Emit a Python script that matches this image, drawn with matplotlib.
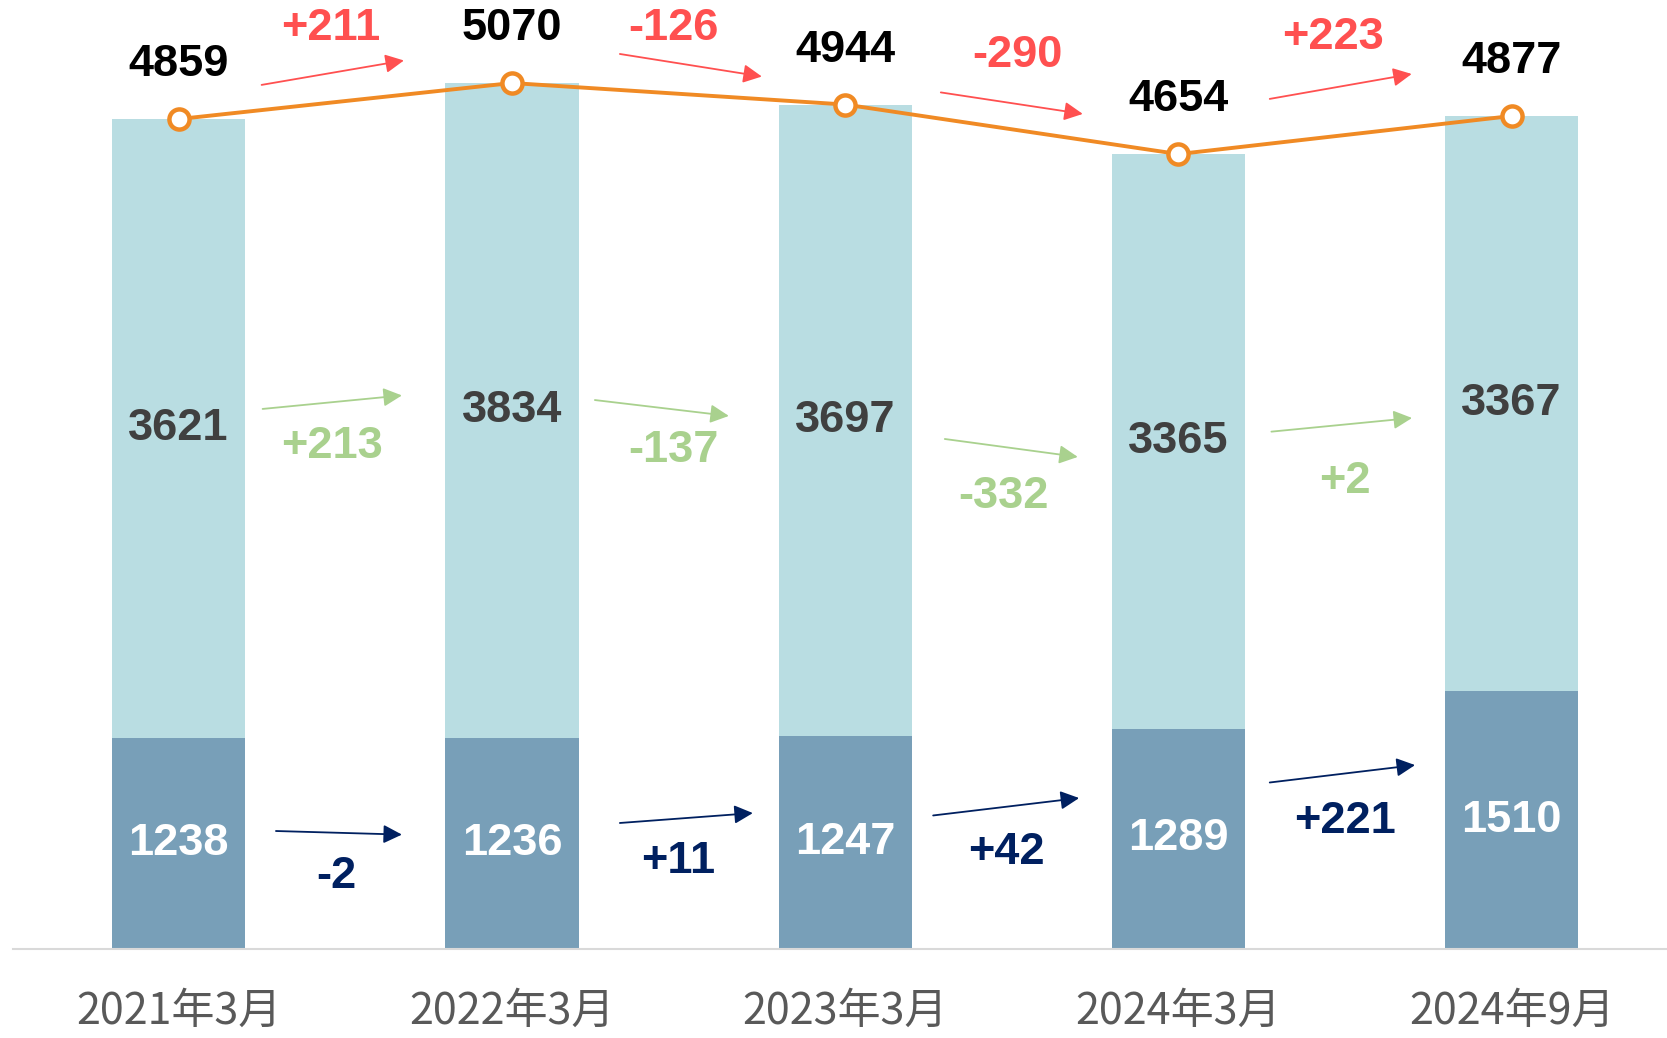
import matplotlib
matplotlib.use("Agg")
import matplotlib.pyplot as plt
from matplotlib import font_manager as fm
from matplotlib.patches import FancyArrowPatch

# ---------------- data ----------------
categories = ["2021年3月", "2022年3月", "2023年3月", "2024年3月", "2024年9月"]
lower_vals = [1238, 1236, 1247, 1289, 1510]
upper_vals = [3621, 3834, 3697, 3365, 3367]
totals = [4859, 5070, 4944, 4654, 4877]
total_deltas = ["+211", "-126", "-290", "+223"]
upper_deltas = ["+213", "-137", "-332", "+2"]
lower_deltas = ["-2", "+11", "+42", "+221"]

# ---------------- layout (annotation positions, data units) ----------------
red_arrows = [((0.249, 5059), (0.676, 5202)), ((1.324, 5240), (1.750, 5108)),
              ((2.287, 5015), (2.713, 4889)), ((3.274, 4977), (3.700, 5123))]
red_texts = [(0.457, 5387), (1.486, 5387), (2.518, 5234), (3.463, 5334)]
green_arrows = [((0.252, 3162), (0.670, 3241)), ((1.249, 3214), (1.651, 3121)),
                ((2.299, 2986), (2.698, 2881)), ((3.279, 3029), (3.701, 3109))]
green_texts = [(0.460, 2942), (1.486, 2916), (2.476, 2649), (3.500, 2737)]
navy_arrows = [((0.292, 691), (0.670, 670)), ((1.324, 738), (1.723, 796)),
               ((2.264, 782), (2.702, 884)), ((3.274, 975), (3.710, 1077))]
navy_texts = [(0.472, 427), (1.498, 515), (2.485, 564), (3.500, 749)]

# ---------------- styles ----------------
C_LIGHT = "#B9DDE2"
C_DARK = "#789FB8"
C_LINE = "#F08A24"
C_RED = "#FF5050"
C_GREEN = "#A9D18E"
C_NAVY = "#002060"
C_MID = "#404040"
C_TICK = "#595959"

names = {f.name for f in fm.fontManager.ttflist}
if "Liberation Sans Narrow" in names:
    NUM_FONT = ["Liberation Sans Narrow", "DejaVu Sans"]
    NUM_SIZE = 35
else:
    NUM_FONT = ["Liberation Sans", "DejaVu Sans"]
    NUM_SIZE = 32.5
CJK_FONT = ["Noto Sans CJK SC", "DejaVu Sans"]

fig = plt.figure(figsize=(16.67, 10.38), dpi=100)
ax = fig.add_axes([0.0078, 0.0857, 0.9922, 0.9143])
ax.set_xlim(-0.497, 4.466)
ax.set_ylim(0, 5556)

x = list(range(len(categories)))
ax.bar(x, lower_vals, width=0.40, color=C_DARK, zorder=2)
ax.bar(x, upper_vals, width=0.40, bottom=lower_vals, color=C_LIGHT, zorder=2)
ax.plot(x, totals, color=C_LINE, lw=2.8, marker="o", markersize=14.5,
        markerfacecolor="white", markeredgecolor=C_LINE, markeredgewidth=3.2,
        zorder=4, clip_on=False)

for i in x:
    ax.text(i, lower_vals[i] / 2, str(lower_vals[i]), ha="center", va="center",
            color="white", fontsize=NUM_SIZE, fontweight="bold", family=NUM_FONT, zorder=5)
    ax.text(i, lower_vals[i] + upper_vals[i] / 2, str(upper_vals[i]), ha="center",
            va="center", color=C_MID, fontsize=NUM_SIZE, fontweight="bold",
            family=NUM_FONT, zorder=5)
    ax.annotate(str(totals[i]), (i, totals[i]), xytext=(0, 39),
                textcoords="offset points", ha="center", va="center",
                color="black", fontsize=NUM_SIZE, fontweight="bold",
                family=NUM_FONT, zorder=5, annotation_clip=False)


def draw_arrows(arrows, texts, labels, color):
    for (p0, p1), pt, lab in zip(arrows, texts, labels):
        arr = FancyArrowPatch(p0, p1, arrowstyle="-|>", mutation_scale=28,
                              lw=1.3, color=color, zorder=5, clip_on=False,
                              shrinkA=0, shrinkB=0)
        ax.add_patch(arr)
        ax.text(pt[0], pt[1], lab, ha="center", va="center", color=color,
                fontsize=NUM_SIZE, fontweight="bold", family=NUM_FONT,
                zorder=5, clip_on=False)


draw_arrows(red_arrows, red_texts, total_deltas, C_RED)
draw_arrows(green_arrows, green_texts, upper_deltas, C_GREEN)
draw_arrows(navy_arrows, navy_texts, lower_deltas, C_NAVY)

for s in ["top", "right", "left"]:
    ax.spines[s].set_visible(False)
ax.spines["bottom"].set_color("#D9D9D9")
ax.spines["bottom"].set_linewidth(1.5)
ax.set_yticks([])
ax.set_xticks(x)
ax.set_xticklabels(categories, family=CJK_FONT, fontsize=31, color=C_TICK)
ax.tick_params(axis="x", length=0, pad=29)

fig.savefig("out.png", dpi=100)
